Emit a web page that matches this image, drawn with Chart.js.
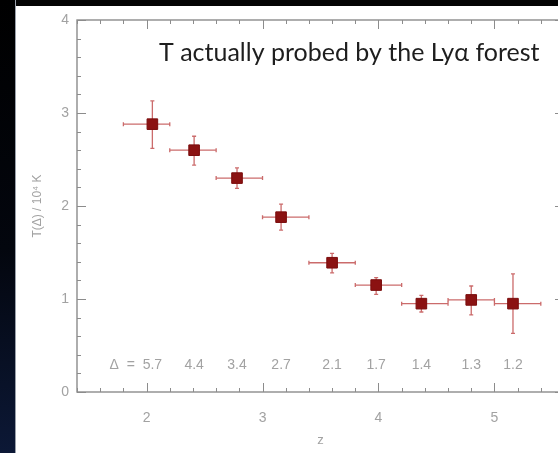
<!DOCTYPE html>
<html>
<head>
<meta charset="utf-8">
<script src="https://cdn.jsdelivr.net/npm/chart.js@4.4.1/dist/chart.umd.min.js"></script>
<style>
html, body { margin: 0; padding: 0; background: #fff; overflow: hidden; width: 558px; height: 453px; }
#topband { position: absolute; left: 0; top: 0; width: 558px; height: 6px; background: #040404; }
#leftband { position: absolute; left: 0; top: 0; width: 15px; height: 453px;
  background: linear-gradient(#000 0%, #03060e 55%, #0c1836 100%); border-right: 1px solid #9aa0aa; }
#chart { position: absolute; left: 0; top: 0; }
</style>
</head>
<body>
<div id="topband"></div>
<div id="leftband"></div>
<canvas id="chart" width="620" height="453"></canvas>
<script>
// redshift bins and measured temperature (10^4 K)
const z    = [2.05, 2.41, 2.78, 3.16, 3.60, 3.98, 4.37, 4.80, 5.16];
const T    = [2.88, 2.60, 2.30, 1.88, 1.39, 1.15, 0.95, 0.99, 0.95];
const zLo  = [1.80, 2.20, 2.60, 3.00, 3.40, 3.80, 4.20, 4.60, 5.00];
const zHi  = [2.20, 2.60, 3.00, 3.40, 3.80, 4.20, 4.60, 5.00, 5.40];
const TLo  = [2.62, 2.44, 2.19, 1.74, 1.28, 1.05, 0.86, 0.83, 0.63];
const THi  = [3.13, 2.75, 2.41, 2.02, 1.49, 1.23, 1.04, 1.14, 1.27];
const delta = ['5.7', '4.4', '3.4', '2.7', '2.1', '1.7', '1.4', '1.3', '1.2'];

const xTicks = [2, 3, 4, 5];
const yTicks = [0, 1, 2, 3, 4];

const titleText = 'T actually probed by the Ly\u03b1 forest';
const axisGrey = '#8c8c8c';
const labelGrey = '#a2a2a2';

// caja con marcas hacia dentro (como IDL)
const framePlugin = {
  id: 'frame',
  beforeDatasetsDraw(chart) {
    const { ctx, chartArea: a, scales } = chart;
    const xs = scales.x, ys = scales.y;
    ctx.save();
    ctx.strokeStyle = axisGrey;
    ctx.lineWidth = 1.4;
    ctx.strokeRect(a.left, a.top, a.right - a.left, a.bottom - a.top);
    ctx.lineWidth = 1;
    for (let v = xs.min; v <= xs.max + 1e-6; v += 0.2) {
      const px = Math.round(xs.getPixelForValue(v)) + 0.5;
      const len = Math.abs(v - Math.round(v)) < 1e-6 ? 9 : 4;
      ctx.beginPath();
      ctx.moveTo(px, a.bottom); ctx.lineTo(px, a.bottom - len);
      ctx.moveTo(px, a.top); ctx.lineTo(px, a.top + len);
      ctx.stroke();
    }
    for (let v = ys.min; v <= ys.max + 1e-6; v += 0.2) {
      const py = Math.round(ys.getPixelForValue(v)) + 0.5;
      const len = Math.abs(v - Math.round(v)) < 1e-6 ? 9 : 4;
      ctx.beginPath();
      ctx.moveTo(a.left, py); ctx.lineTo(a.left + len, py);
      ctx.moveTo(a.right, py); ctx.lineTo(a.right - len, py);
      ctx.stroke();
    }
    ctx.restore();
  }
};

// barras de error en z y en T
const errorPlugin = {
  id: 'errbars',
  beforeDatasetsDraw(chart) {
    const { ctx, scales } = chart;
    const xs = scales.x, ys = scales.y;
    ctx.save();
    ctx.strokeStyle = 'rgba(190, 70, 70, 0.8)';
    ctx.lineWidth = 1.3;
    z.forEach((zv, i) => {
      const px = xs.getPixelForValue(zv), py = ys.getPixelForValue(T[i]);
      const x0 = xs.getPixelForValue(zLo[i]), x1 = xs.getPixelForValue(zHi[i]);
      const y0 = ys.getPixelForValue(TLo[i]), y1 = ys.getPixelForValue(THi[i]);
      ctx.beginPath();
      ctx.moveTo(x0, py); ctx.lineTo(x1, py);
      ctx.moveTo(x0, py - 2); ctx.lineTo(x0, py + 2);
      ctx.moveTo(x1, py - 2); ctx.lineTo(x1, py + 2);
      ctx.moveTo(px, y0); ctx.lineTo(px, y1);
      ctx.moveTo(px - 2, y0); ctx.lineTo(px + 2, y0);
      ctx.moveTo(px - 2, y1); ctx.lineTo(px + 2, y1);
      ctx.stroke();
    });
    ctx.restore();
  }
};

// titulo dentro del panel y etiquetas de Delta
const textPlugin = {
  id: 'texts',
  afterDraw(chart) {
    const { ctx, scales } = chart;
    const xs = scales.x, ys = scales.y;
    ctx.save();
    ctx.fillStyle = '#1e1e1e';
    ctx.font = '25px Lato';
    ctx.textAlign = 'left';
    ctx.textBaseline = 'alphabetic';
    ctx.fillText(titleText, 159, 61);

    ctx.fillStyle = labelGrey;
    ctx.font = '14px "Liberation Sans"';
    ctx.textAlign = 'center';
    ctx.textBaseline = 'middle';
    const yLab = ys.getPixelForValue(0.29);
    delta.forEach((d, i) => {
      ctx.fillText(d, xs.getPixelForValue(z[i]), yLab);
    });
    ctx.textAlign = 'right';
    const w0 = ctx.measureText(delta[0]).width;
    ctx.fillText('\u0394  =  ', xs.getPixelForValue(z[0]) - w0 / 2, yLab);
    ctx.restore();
  }
};

const ctx = document.getElementById('chart').getContext('2d');

new Chart(ctx, {
  type: 'scatter',
  data: {
    datasets: [{
      data: z.map((v, i) => ({ x: v, y: T[i] })),
      pointStyle: 'rect',
      pointRadius: 7.5,
      backgroundColor: '#8b1212',
      borderColor: '#7a0d0d',
      borderWidth: 1
    }]
  },
  options: {
    responsive: false,
    animation: false,
    devicePixelRatio: 1,
    events: [],
    layout: { padding: { top: 20, right: 56, left: 0, bottom: 0 } },
    plugins: { legend: { display: false }, tooltip: { enabled: false } },
    scales: {
      x: {
        type: 'linear',
        min: 1.4,
        max: 5.6,
        grid: { display: false, drawTicks: false },
        border: { display: false },
        afterBuildTicks: s => { s.ticks = xTicks.map(v => ({ value: v })); },
        afterFit: s => { s.height = 61; },
        ticks: { padding: 18, color: labelGrey, font: { family: 'Liberation Sans', size: 14 } },
        title: { display: true, text: 'z', color: labelGrey,
                 font: { family: 'Liberation Sans', size: 13 }, padding: { top: 0, bottom: 5 } }
      },
      y: {
        type: 'linear',
        min: 0,
        max: 4,
        grid: { display: false, drawTicks: false },
        border: { display: false },
        afterBuildTicks: s => { s.ticks = yTicks.map(v => ({ value: v })); },
        afterFit: s => { s.width = 77; },
        ticks: { padding: 8, color: labelGrey, font: { family: 'Liberation Sans', size: 14 } },
        title: { display: true, text: 'T(\u0394) / 10\u2074 K', color: labelGrey,
                 font: { family: 'Liberation Sans', size: 12 }, padding: { top: 30, bottom: 0 } }
      }
    }
  },
  plugins: [framePlugin, errorPlugin, textPlugin]
});
</script>
</body>
</html>
